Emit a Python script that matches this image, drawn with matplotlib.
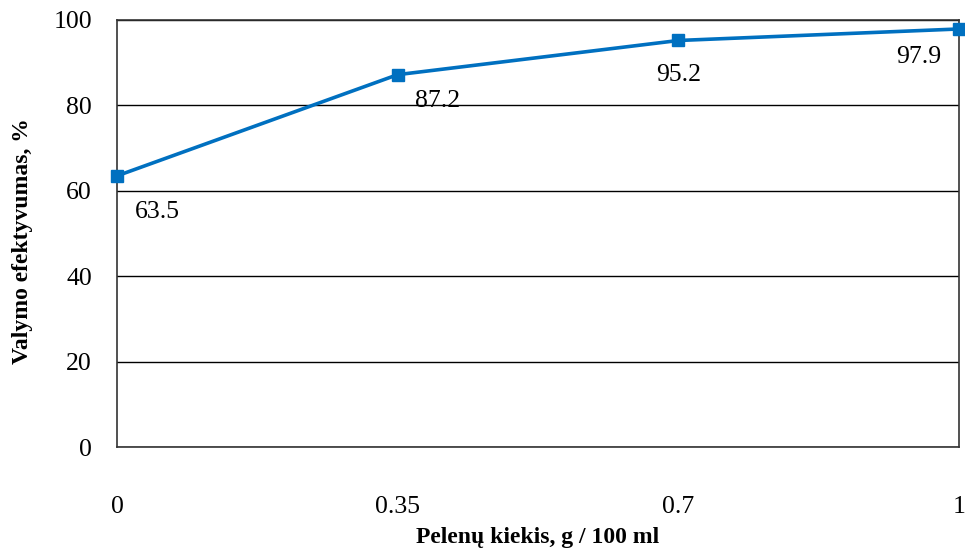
import matplotlib.pyplot as plt

# data
categories = ["0", "0.35", "0.7", "1"]
efficiency = [63.5, 87.2, 95.2, 97.9]
label_offsets = [(29, -26), (29, -19), (0, -25), (-29, -20)]  # points, for value labels

plt.rcParams["font.family"] = ["Liberation Serif", "DejaVu Serif"]

fig = plt.figure(figsize=(9.65, 5.53), dpi=100)
ax = fig.add_axes([117 / 965, 1 - 447 / 553, (959 - 117) / 965, (447 - 20) / 553])

x = list(range(len(categories)))
ax.plot(x, efficiency, color="#0070C0", linewidth=2.6, marker="s", markersize=9, clip_on=False, zorder=3)

for xi, v, off in zip(x, efficiency, label_offsets):
    ax.annotate(f"{v:.1f}", (xi, v), xytext=off, textcoords="offset points",
                ha="center", va="center", fontsize=18.5)

ax.set_xlim(0, len(categories) - 1)
ax.set_ylim(0, 100)
ax.set_xticks(x)
ax.set_xticklabels(categories)
ax.set_yticks(range(0, 101, 20))
ax.tick_params(axis="both", length=0, labelsize=18.5)
ax.tick_params(axis="x", pad=35)
ax.tick_params(axis="y", pad=18)
ax.grid(axis="y", color="black", linewidth=1)
ax.set_axisbelow(True)
for s in ax.spines.values():
    s.set_color("#333333")
    s.set_linewidth(1.2)

ax.set_xlabel("Pelenų kiekis, g / 100 ml", fontsize=17, fontweight="bold", va="center")
ax.xaxis.set_label_coords(0.5, -(537 - 447) / (447 - 20))
ax.set_ylabel("Valymo efektyvumas, %", fontsize=17, fontweight="bold", va="center")
ax.yaxis.set_label_coords(-(117 - 22) / (959 - 117), 1 - (241 - 20) / (447 - 20))

fig.savefig("out.png", dpi=100)
